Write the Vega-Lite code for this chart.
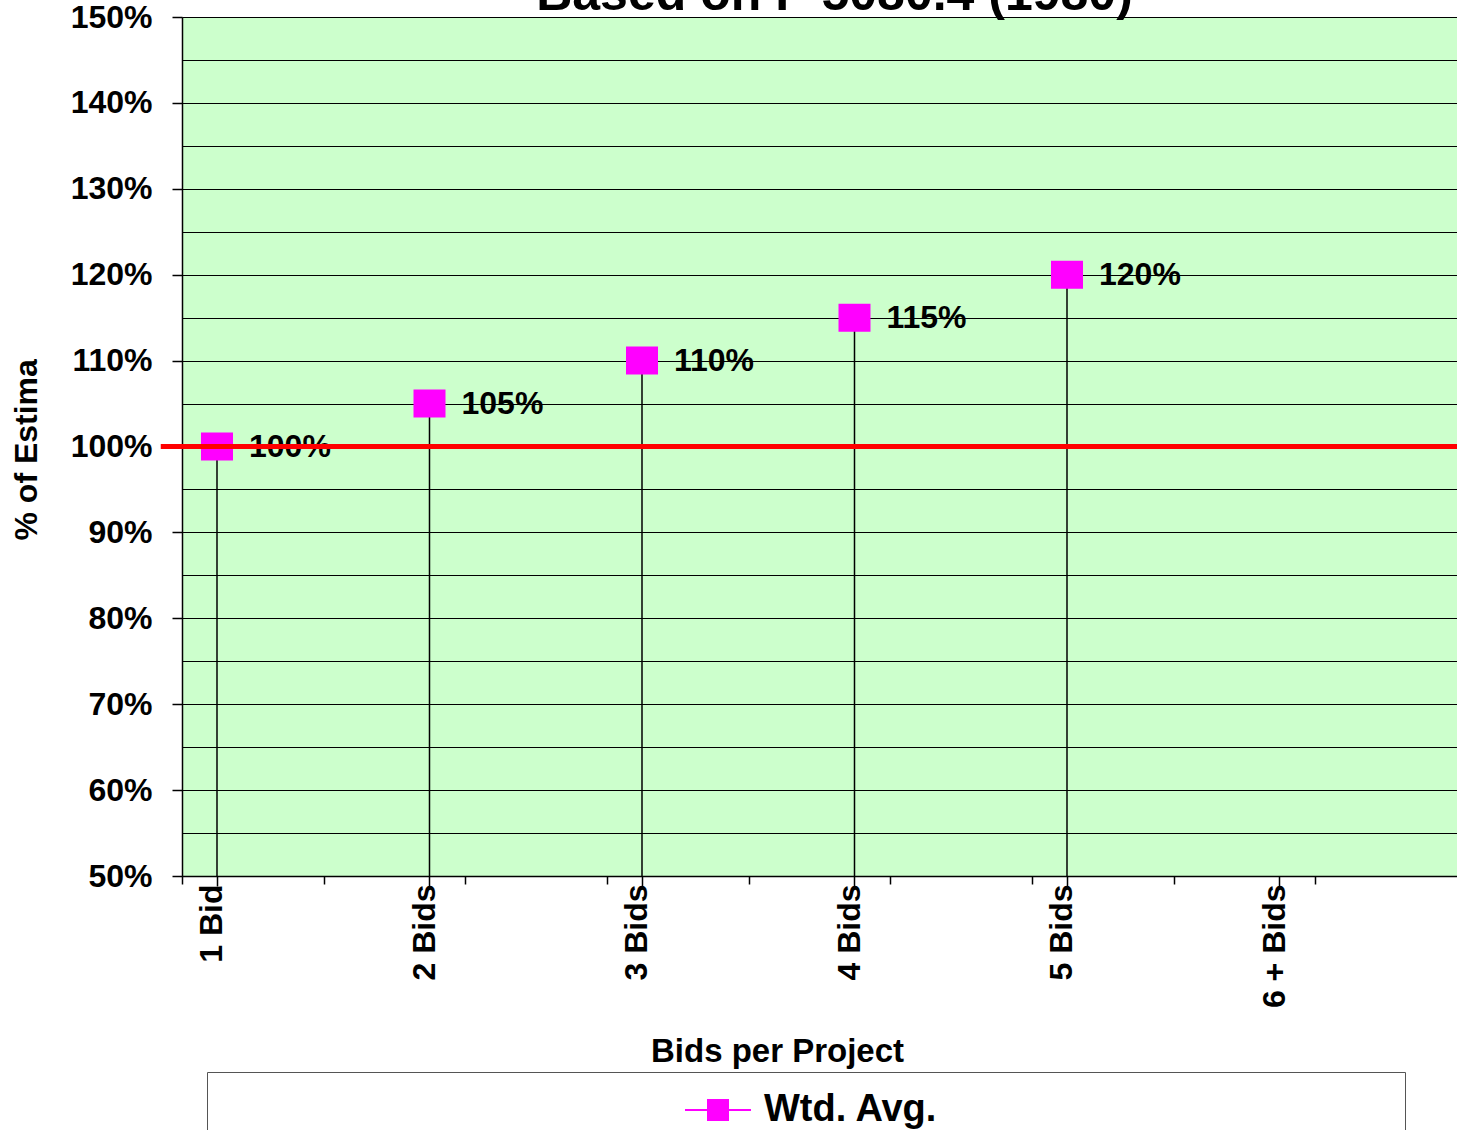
{
  "$schema": "https://vega.github.io/schema/vega-lite/v6.json",
  "autosize": {"type": "none"},
  "width": 1275,
  "height": 859,
  "padding": {"left": 182, "top": 17, "right": 0, "bottom": 254},
  "background": "white",
  "title": {
    "text": "Based on P 5080.4 (1980)",
    "fontSize": 50,
    "font": "Liberation Sans",
    "fontWeight": "bold",
    "color": "black",
    "anchor": "middle",
    "baseline": "alphabetic",
    "offset": -59,
    "dx": 15
  },
  "config": {
    "font": "Liberation Sans",
    "view": {"fill": "#CCFFCC", "stroke": "#808080", "strokeWidth": 1},
    "axis": {
      "domainColor": "black",
      "domainWidth": 1.5,
      "tickColor": "black",
      "labelColor": "black",
      "titleColor": "black",
      "labelFont": "Liberation Sans",
      "titleFont": "Liberation Sans",
      "labelFontWeight": "bold",
      "titleFontWeight": "bold"
    }
  },
  "data": {
    "values": [
      {"bids": "1 Bid", "wtd": 1.00, "series": "Wtd. Avg."},
      {"bids": "2 Bids", "wtd": 1.05, "series": "Wtd. Avg."},
      {"bids": "3 Bids", "wtd": 1.10, "series": "Wtd. Avg."},
      {"bids": "4 Bids", "wtd": 1.15, "series": "Wtd. Avg."},
      {"bids": "5 Bids", "wtd": 1.20, "series": "Wtd. Avg."}
    ]
  },
  "layer": [
    {
      "encoding": {
        "x": {
          "field": "bids",
          "type": "nominal",
          "scale": {
            "type": "point",
            "domain": ["1 Bid", "2 Bids", "3 Bids", "4 Bids", "5 Bids", "6 + Bids"],
            "padding": 0.5,
            "align": 0.1647
          },
          "axis": {
            "orient": "bottom",
            "title": "Bids per Project",
            "titleFontSize": 33,
            "titleX": 595,
            "titleY": 185,
            "titleBaseline": "alphabetic",
            "titleAlign": "center",
            "labelAngle": -90,
            "labelAlign": "right",
            "labelBaseline": "middle",
            "labelFontSize": 32,
            "labelPadding": -2,
            "labelOffset": -5,
            "tickSize": 10,
            "tickWidth": 1.5,
            "grid": false,
            "domain": true
          }
        },
        "y": {
          "field": "wtd",
          "type": "quantitative",
          "scale": {"domain": [0.5, 1.5], "nice": false, "zero": false},
          "axis": {
            "values": [0.5, 0.55, 0.6, 0.65, 0.7, 0.75, 0.8, 0.85, 0.9, 0.95, 1, 1.05, 1.1, 1.15, 1.2, 1.25, 1.3, 1.35, 1.4, 1.45, 1.5],
            "format": ".0%",
            "labelExpr": "round(datum.value*100) % 10 == 0 ? datum.label : ''",
            "grid": true,
            "gridColor": "black",
            "gridWidth": 1,
            "tickSize": 10,
            "tickWidth": 1.5,
            "tickOpacity": {"condition": {"test": "round(datum.value*100) % 10 != 0", "value": 0}, "value": 1},
            "labelPadding": 20,
            "labelFontSize": 32,
            "title": "% of Estima",
            "titleFontSize": 32,
            "titleAngle": -90,
            "titleAlign": "left",
            "titleBaseline": "middle",
            "titleX": -156,
            "titleY": 523
          }
        }
      },
      "layer": [
        {
          "mark": {"type": "rule", "color": "black", "strokeWidth": 1.5},
          "encoding": {"y2": {"datum": 0.5}}
        },
        {
          "mark": {"type": "point", "shape": "M-1,-0.875H1V0.875H-1Z", "filled": true, "size": 1024, "opacity": 1},
          "encoding": {
            "color": {
              "field": "series",
              "type": "nominal",
              "scale": {"range": ["#FF00FF"]},
              "legend": {
                "orient": "none",
                "legendX": 25,
                "legendY": 1055,
                "title": null,
                "symbolType": "M-1.833,-0.056H1.833V0.056H-1.833Z M-0.611,-0.611H0.611V0.611H-0.611Z",
                "symbolSize": 1296,
                "symbolFillColor": "#FF00FF",
                "symbolStrokeColor": "#FF00FF",
                "symbolStrokeWidth": 0,
                "symbolOpacity": 1,
                "labelFontSize": 38,
                "labelFont": "Liberation Sans",
                "labelFontWeight": "bold",
                "labelColor": "black",
                "labelLimit": 2000,
                "labelOffset": 27,
                "labelExpr": "datum.label + '\u2800\u2800\u2800\u2800\u2800\u2800\u2800\u2800\u2800\u2800\u2800\u2800\u2800\u2800\u2800\u2800'",
                "strokeColor": "#555555",
                "fillColor": "white",
                "padding": 19,
                "symbolOffset": 473
              }
            }
          }
        },
        {
          "mark": {"type": "text", "align": "left", "baseline": "middle", "dx": 32, "fontSize": 32, "fontWeight": "bold", "font": "Liberation Sans", "color": "black"},
          "encoding": {"text": {"field": "wtd", "type": "quantitative", "format": ".0%"}}
        }
      ]
    },
    {
      "data": {"values": [{"ref": "100%"}]},
      "mark": {"type": "rule", "color": "#FF0000", "strokeWidth": 5},
      "encoding": {
        "x": {
          "datum": -0.15,
          "type": "quantitative",
          "scale": {"domain": [0, 9], "nice": false, "zero": false},
          "axis": {"orient": "bottom", "values": [0, 1, 2, 3, 4, 5, 6, 7, 8], "labels": false, "tickSize": 8, "tickWidth": 1.5, "domain": false, "grid": false, "title": null}
        },
        "x2": {"datum": 9},
        "y": {"datum": 1.0, "type": "quantitative"}
      }
    }
  ],
  "resolve": {"scale": {"x": "independent"}, "axis": {"x": "independent"}}
}
